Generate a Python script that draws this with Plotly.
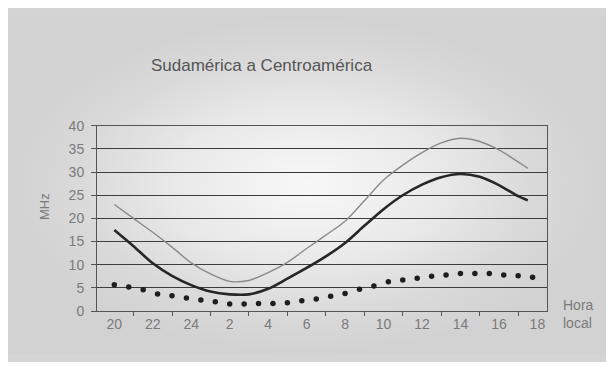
import plotly.graph_objects as go

# ---- data ----
tick_hours = [0, 2, 4, 6, 8, 10, 12, 14, 16, 18, 20, 22]
tick_labels = ["20", "22", "24", "2", "4", "6", "8", "10", "12", "14", "16", "18"]

line_hours = [0, 1, 2, 3, 4, 5, 6, 7, 8, 9, 10, 11, 12, 13, 14, 15, 16, 17, 18, 19, 20, 21, 21.5]
upper_mhz = [23.0, 20.0, 17.0, 13.8, 10.4, 8.0, 6.4, 6.6, 8.3, 10.5, 13.5, 16.4, 19.4, 23.8,
             28.3, 31.5, 34.2, 36.3, 37.3, 36.6, 34.8, 32.2, 30.8]
mean_mhz = [17.5, 14.0, 10.3, 7.6, 5.6, 4.2, 3.6, 3.6, 4.8, 7.0, 9.3, 11.8, 14.7, 18.4,
            22.0, 25.0, 27.3, 28.9, 29.6, 29.0, 27.2, 24.8, 23.9]

dot_hours = [0.0, 0.75, 1.5, 2.25, 3.0, 3.75, 4.5, 5.25, 6.0, 6.75, 7.5, 8.25, 9.0, 9.75, 10.5,
             11.25, 12.0, 12.75, 13.5, 14.25, 15.0, 15.75, 16.5, 17.25, 18.0, 18.75, 19.5,
             20.25, 21.0, 21.75]
lower_mhz = [5.7, 5.2, 4.6, 3.7, 3.3, 2.8, 2.4, 2.0, 1.5, 1.5, 1.6, 1.6, 1.8, 2.2, 2.6,
             3.2, 3.8, 4.7, 5.4, 6.3, 6.7, 7.1, 7.5, 7.8, 8.1, 8.1, 8.1, 7.8, 7.6, 7.3]

# The page body keeps its default 8px margin, so the figure is sized to make
# the whole page exactly 614x370; positions below are in figure pixels.
OFF = 8
W, H = 614 - 2 * OFF, 370 - 2 * OFF
PL, PR, PT, PB = 97 - OFF, 547 - OFF, 123 - OFF, 317 - OFF  # plot area

FONT = "Liberation Sans, Arial, sans-serif"

fig = go.Figure()

# background radial gradient panel (decoration on a full-page helper axis)
fig.add_trace(go.Scatter(
    x=[0, W, W, 0, 0], y=[0, 0, H, H, 0],
    xaxis="x", yaxis="y", mode="lines", line=dict(width=0),
    fill="toself",
    fillgradient=dict(type="radial",
                      colorscale=[[0, "#f8f8f8"], [0.45, "#e9e9e9"],
                                  [0.75, "#dadada"], [1, "#d2d2d2"]]),
    hoverinfo="skip", showlegend=False))

# data traces
fig.add_trace(go.Scatter(
    x=line_hours, y=upper_mhz, xaxis="x2", yaxis="y2", mode="lines",
    line=dict(color="#8a8a8a", width=1.4, shape="spline", smoothing=0.8),
    showlegend=False, hoverinfo="skip"))
fig.add_trace(go.Scatter(
    x=line_hours, y=mean_mhz, xaxis="x2", yaxis="y2", mode="lines",
    line=dict(color="#262626", width=2.6, shape="spline", smoothing=0.8),
    showlegend=False, hoverinfo="skip"))
fig.add_trace(go.Scatter(
    x=dot_hours, y=lower_mhz, xaxis="x2", yaxis="y2", mode="markers",
    marker=dict(color="#1e1e1e", size=5.5),
    showlegend=False, hoverinfo="skip"))

fig.update_layout(
    width=W, height=H, autosize=False,
    margin=dict(l=0, r=0, t=0, b=0),
    paper_bgcolor="#d4d4d4",
    plot_bgcolor="rgba(0,0,0,0)",
    font=dict(family=FONT, color="#777777"),
    xaxis=dict(domain=[0, 1], range=[0, W], visible=False, fixedrange=True),
    yaxis=dict(domain=[0, 1], range=[H, 0], visible=False, fixedrange=True),
    xaxis2=dict(
        domain=[PL / W, PR / W], anchor="y2", range=[-0.9, 22.5],
        tickmode="array", tickvals=tick_hours, ticktext=tick_labels,
        ticks="", showgrid=False, zeroline=False,
        showline=True, linecolor="#555555", linewidth=1, mirror=True,
        tickfont=dict(size=14, color="#7a7a7a"),
        minor=dict(tickmode="array", tickvals=[1, 3, 5, 7, 9, 11, 13, 15, 17, 19, 21],
                   ticks="outside", ticklen=4, tickcolor="#555555", showgrid=False),
    ),
    yaxis2=dict(
        domain=[(H - PB) / H, (H - PT) / H], anchor="x2", range=[0, 40],
        tickmode="linear", tick0=0, dtick=5,
        ticks="outside", ticklen=5, tickcolor="#555555",
        showgrid=True, gridcolor="#3c3c3c", gridwidth=1, zeroline=False,
        showline=True, linecolor="#555555", linewidth=1, mirror=True,
        tickfont=dict(size=14, color="#7a7a7a"),
        ticklabelstandoff=4,
    ),
    annotations=[
        dict(text="Sudamérica a Centroamérica", xref="paper", yref="paper",
             x=(261.5 - OFF) / W, y=(H - (60 - OFF)) / H, xanchor="center", yanchor="middle",
             showarrow=False, font=dict(size=17, color="#555555", family=FONT)),
        dict(text="MHz", xref="paper", yref="paper", textangle=-90,
             x=(45 - OFF) / W, y=(H - (208 - OFF)) / H, xanchor="center", yanchor="middle",
             showarrow=False, font=dict(size=13, color="#7a7a7a", family=FONT)),
        dict(text="Hora<br>local", xref="paper", yref="paper", align="left",
             x=(561 - OFF) / W, y=(H - (320 - OFF)) / H, xanchor="left", yanchor="middle",
             showarrow=False, font=dict(size=14, color="#7a7a7a", family=FONT)),
    ],
)

fig.write_html("out.html", config={"displayModeBar": False})
